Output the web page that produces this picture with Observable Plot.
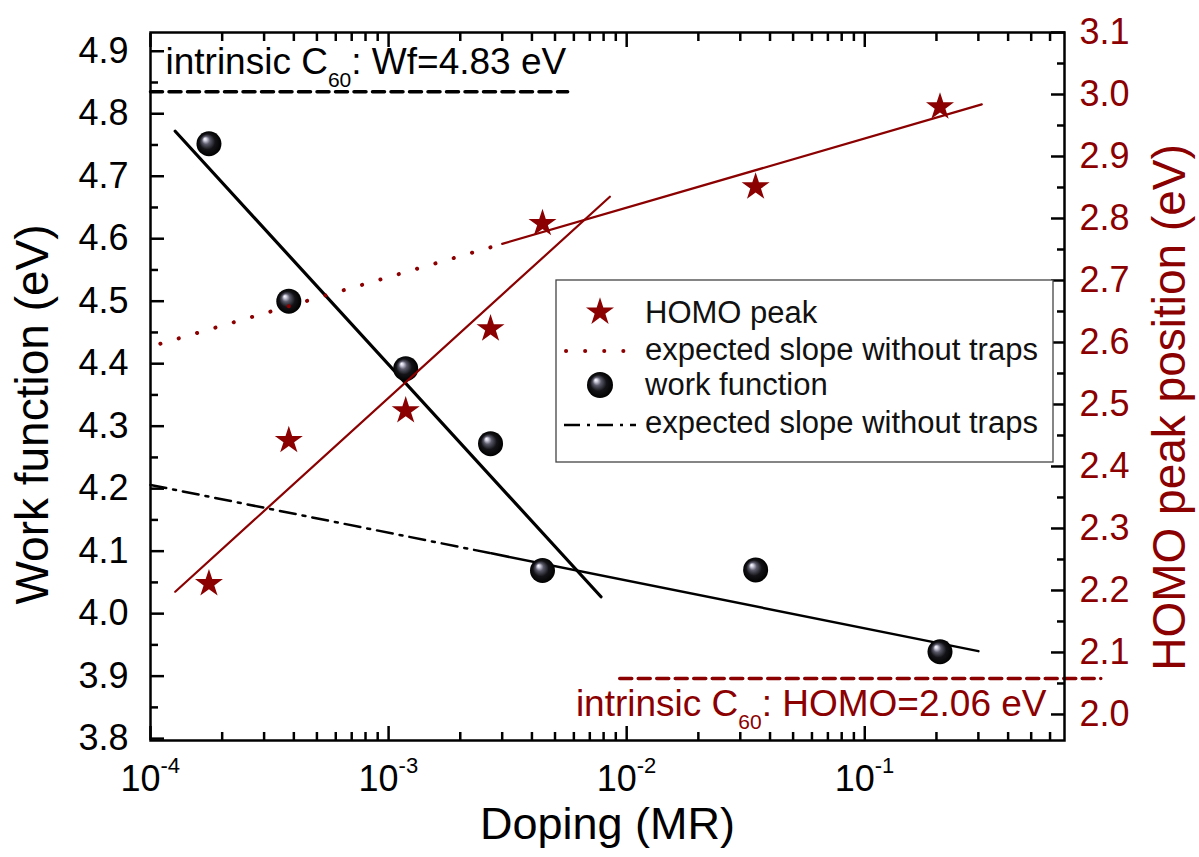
<!DOCTYPE html>
<html><head><meta charset="utf-8">
<script src="https://cdn.jsdelivr.net/npm/d3@7"></script>
<script src="https://cdn.jsdelivr.net/npm/@observablehq/plot@0.6"></script>
<style>html,body{margin:0;padding:0;background:#fff;} svg{display:block}</style>
</head><body><div id="chart"></div>
<script>
const FONT = "Arial, 'Liberation Sans', sans-serif";
const RED = "#8b0000";

// ---- data ----
const doping       = [1.76e-4, 3.81e-4, 1.18e-3, 2.68e-3, 4.43e-3, 3.48e-2, 2.07e-1];
const workFunction = [4.752, 4.500, 4.392, 4.272, 4.069, 4.070, 3.939];
const homoPeak     = [2.211, 2.442, 2.490, 2.622, 2.792, 2.851, 2.980];

// fitted / expected lines: [doping, value]
const wfFitSteep            = [[1.27e-4, 4.772], [7.8e-3, 4.027]];
const wfExpectedDashDot     = [[1.0e-4, 4.206], [2.7e-3, 4.0965]];
const wfExpectedSolid       = [[2.7e-3, 4.0965], [0.30, 3.940]];
const homoFitSteep          = [[1.27e-4, 2.198], [8.5e-3, 2.835]];
const homoExpectedDotted    = [[1.1e-4, 2.598], [3.0e-3, 2.759]];
const homoExpectedSolid     = [[3.0e-3, 2.759], [0.31, 2.984]];
const wfIntrinsicLine       = [[1.0e-4, 4.835], [5.65e-3, 4.835]];
const homoIntrinsicLine     = [[9.35e-3, 2.058], [0.98, 2.058]];

// axes
const wfTicks   = [3.8, 3.9, 4.0, 4.1, 4.2, 4.3, 4.4, 4.5, 4.6, 4.7, 4.8, 4.9];
const homoTicks = [2.0, 2.1, 2.2, 2.3, 2.4, 2.5, 2.6, 2.7, 2.8, 2.9, 3.0, 3.1];
const dopingDecades = [1e-4, 1e-3, 1e-2, 1e-1];
const wfDomain   = [3.797, 4.93];
const homoDomain = [1.958, 3.1];
const dopingDomain = [1e-4, 0.69];

// texts
const xTitle = "Doping (MR)";
const yTitle = "Work function (eV)";
const y2Title = "HOMO peak position (eV)";
const wfNote = "intrinsic C60: Wf=4.83 eV";
const homoNote = "intrinsic C60: HOMO=2.06 eV";
const legendItems = ["HOMO peak", "expected slope without traps", "work function", "expected slope without traps"];

// map right-axis (HOMO) values into the left-axis coordinate
const toL = r => wfDomain[0] + (r - homoDomain[0]) * (wfDomain[1] - wfDomain[0]) / (homoDomain[1] - homoDomain[0]);
const fromL = l => homoDomain[0] + (l - wfDomain[0]) * (homoDomain[1] - homoDomain[0]) / (wfDomain[1] - wfDomain[0]);

const wfMinor = wfTicks.map(v => v + 0.05).filter(v => v < wfDomain[1]);
const homoMinor = homoTicks.map(v => v + 0.05).filter(v => v < homoDomain[1]);
const dopingMinor = dopingDecades.flatMap(d => [2,3,4,5,6,7,8,9].map(k => k * d)).filter(v => v <= dopingDomain[1]);
const idx = d3.range(doping.length);

const X = d => d[0];
const YL = d => d[1];
const YR = d => toL(d[1]);

const svg = Plot.plot({
  width: 1199, height: 857,
  marginLeft: 150, marginRight: 135, marginTop: 32, marginBottom: 117,
  x: {type: "log", domain: dopingDomain},
  y: {domain: wfDomain},
  style: {fontFamily: FONT, background: "white", overflow: "visible", color: "black"},
  marks: [
    // intrinsic reference lines
    Plot.line(wfIntrinsicLine, {x: X, y: YL, stroke: "black", strokeWidth: 3.5, strokeDasharray: "12,6.5"}),
    Plot.line(homoIntrinsicLine, {x: X, y: YR, stroke: RED, strokeWidth: 3.5, strokeDasharray: "12,6.5"}),
    // work function fits
    Plot.line(wfExpectedDashDot, {x: X, y: YL, stroke: "black", strokeWidth: 2.5, strokeDasharray: "16,7,3,7"}),
    Plot.line(wfExpectedSolid, {x: X, y: YL, stroke: "black", strokeWidth: 2.5}),
    Plot.line(wfFitSteep, {x: X, y: YL, stroke: "black", strokeWidth: 3.2}),
    // spheres
    Plot.dot(idx, {x: i => doping[i], y: i => workFunction[i], r: 12.5, fill: "url(#ball)", stroke: "none"}),
    // HOMO fits
    Plot.line(homoExpectedDotted, {x: X, y: YR, stroke: RED, strokeWidth: 4, strokeDasharray: "0.1,19", strokeLinecap: "round"}),
    Plot.line(homoExpectedSolid, {x: X, y: YR, stroke: RED, strokeWidth: 2.2}),
    Plot.line(homoFitSteep, {x: X, y: YR, stroke: RED, strokeWidth: 2.2}),
    // stars
    Plot.dot(idx, {x: i => doping[i], y: i => toL(homoPeak[i]), symbol: "star", r: 8.8, fill: RED, stroke: "none"}),

    Plot.frame({stroke: "black", strokeWidth: 2.5}),

    // left axis
    Plot.axisY(wfTicks, {anchor: "left", tickSize: -14, fill: "none", strokeWidth: 2.5, label: null}),
    Plot.axisY(wfMinor, {anchor: "left", tickSize: -8, fill: "none", strokeWidth: 2.5, label: null}),
    Plot.axisY(wfTicks, {anchor: "left", tickSize: 0, tickPadding: 22, fontSize: 36, tickFormat: d => d.toFixed(1), label: null}),
    // right axis
    Plot.axisY(homoTicks.map(toL), {anchor: "right", tickSize: -14, fill: "none", strokeWidth: 2.5, label: null}),
    Plot.axisY(homoMinor.map(toL), {anchor: "right", tickSize: -8, fill: "none", strokeWidth: 2.5, label: null}),
    Plot.axisY(homoTicks.map(toL), {anchor: "right", tickSize: 0, tickPadding: 15, fontSize: 36, fill: RED, tickFormat: d => fromL(d).toFixed(1), label: null}),
    // bottom / top axis
    Plot.axisX(dopingDecades, {anchor: "bottom", tickSize: -14, fill: "none", strokeWidth: 2.5, label: null}),
    Plot.axisX(dopingMinor, {anchor: "bottom", tickSize: -8, fill: "none", strokeWidth: 2.5, label: null}),
    Plot.axisX(dopingDecades, {anchor: "top", tickSize: -14, fill: "none", strokeWidth: 2.5, label: null}),
    Plot.axisX(dopingMinor, {anchor: "top", tickSize: -8, fill: "none", strokeWidth: 2.5, label: null}),
    Plot.axisX(dopingDecades, {anchor: "bottom", tickSize: 0, tickPadding: 25, fontSize: 36, dx: -10, tickFormat: () => "10", label: null}),
    Plot.axisX(dopingDecades, {anchor: "bottom", tickSize: 0, tickPadding: 17, fontSize: 22, dx: 10, textAnchor: "start", tickFormat: d => String(Math.round(Math.log10(d))), label: null}),

    // titles
    Plot.text([xTitle], {text: d => d, frameAnchor: "bottom", textAnchor: "middle", dy: 84, fontSize: 45, lineAnchor: "middle"}),
    Plot.text([yTitle], {text: d => d, frameAnchor: "left", textAnchor: "middle", rotate: -90, dx: -117, dy: 28, fontSize: 46, lineAnchor: "middle"}),
    Plot.text([y2Title], {text: d => d, frameAnchor: "right", textAnchor: "middle", rotate: -90, dx: 106, dy: 21, fontSize: 46, lineAnchor: "middle", fill: RED}),

    // annotations
    Plot.text([wfNote], {text: d => d, frameAnchor: "top-left", textAnchor: "start", dx: 15, dy: 29.5, fontSize: 37, lineAnchor: "middle", className: "anno"}),
    Plot.text([homoNote], {text: d => d, frameAnchor: "bottom-right", textAnchor: "end", dx: -18, dy: -36.5, fontSize: 37, lineAnchor: "middle", fill: RED, className: "anno"})
  ]
});

const S = d3.select(svg);
// sphere gradient
const defs = S.insert("defs", ":first-child");
const grad = defs.append("radialGradient").attr("id", "ball")
  .attr("cx", "50%").attr("cy", "50%").attr("r", "50%").attr("fx", "33%").attr("fy", "30%");
[[0, "#ffffff"], [0.12, "#d0d0e0"], [0.32, "#5a5a6a"], [0.62, "#141418"], [1, "#000000"]]
  .forEach(([o, c]) => grad.append("stop").attr("offset", o).attr("stop-color", c));

// subscripts "60"
S.selectAll(".anno text").each(function() {
  const t = d3.select(this);
  const s = t.text();
  const k = s.indexOf("C60");
  if (k < 0) return;
  t.text(null);
  t.append("tspan").text(s.slice(0, k + 1));
  t.append("tspan").attr("font-size", 21).attr("dy", 13).text("60");
  t.append("tspan").attr("dy", -13).text(s.slice(k + 3));
});

// legend
const lg = S.append("g").attr("font-family", FONT).attr("font-size", 31).attr("fill", "#111").attr("text-anchor", "start");
lg.append("rect").attr("x", 556).attr("y", 280).attr("width", 497).attr("height", 182)
  .attr("fill", "white").attr("stroke", "#444").attr("stroke-width", 1.3);
lg.append("path").attr("d", d3.symbol(d3.symbolStar, Math.PI * 8.8 * 8.8)()).attr("transform", "translate(600,312)").attr("fill", RED);
lg.append("line").attr("x1", 566).attr("x2", 626).attr("y1", 351).attr("y2", 351)
  .attr("stroke", RED).attr("stroke-width", 4).attr("stroke-dasharray", "0.1,19").attr("stroke-linecap", "round");
lg.append("circle").attr("cx", 600).attr("cy", 385).attr("r", 13).attr("fill", "url(#ball)");
lg.append("line").attr("x1", 564).attr("x2", 636).attr("y1", 425).attr("y2", 425)
  .attr("stroke", "black").attr("stroke-width", 2.5).attr("stroke-dasharray", "16,7,3,7");
[323, 360, 395, 433].forEach((y, i) => lg.append("text").attr("x", 645).attr("y", y).text(legendItems[i]));

document.getElementById("chart").appendChild(svg);
</script>
</body></html>
